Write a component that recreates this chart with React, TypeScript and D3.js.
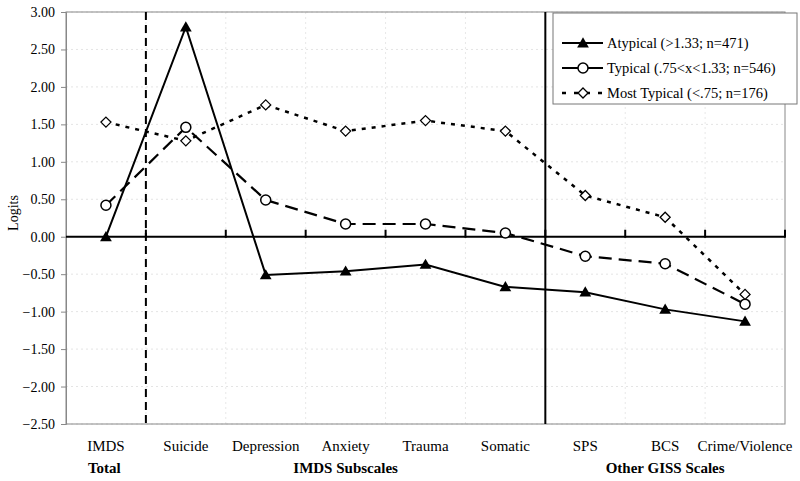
import React, { useEffect, useRef } from 'react';
import * as d3 from 'd3';

const categories = ['IMDS', 'Suicide', 'Depression', 'Anxiety', 'Trauma', 'Somatic', 'SPS', 'BCS', 'Crime/Violence'];
const atypical = [0.0, 2.8, -0.51, -0.46, -0.37, -0.67, -0.74, -0.97, -1.13];
const typical = [0.42, 1.46, 0.49, 0.17, 0.17, 0.05, -0.26, -0.36, -0.9];
const mostTypical = [1.53, 1.28, 1.76, 1.41, 1.55, 1.41, 0.55, 0.26, -0.77];
const yTicks = [3, 2.5, 2, 1.5, 1, 0.5, 0, -0.5, -1, -1.5, -2, -2.5];
const groupLabels = [
  { label: 'Total', from: 0, to: 0, align: 'start' },
  { label: 'IMDS Subscales', from: 1, to: 5, align: 'middle' },
  { label: 'Other GISS Scales', from: 6, to: 8, align: 'middle' },
];
const seriesNames = ['Atypical (>1.33; n=471)', 'Typical (.75<x<1.33; n=546)', 'Most Typical (<.75; n=176)'];

const W = 800;
const H = 481;
const margin = { top: 12, right: 15, bottom: 57, left: 66 };
const FONT = '"Liberation Serif", "Times New Roman", serif';

export default function App() {
  const ref = useRef<SVGSVGElement>(null);

  useEffect(() => {
    if (!ref.current) return;
    const svg = d3.select(ref.current);
    svg.selectAll('*').remove();

    const iw = W - margin.left - margin.right;
    const ih = H - margin.top - margin.bottom;
    const g = svg.append('g').attr('transform', `translate(${margin.left},${margin.top})`);

    const x = d3.scaleBand<string>().domain(categories).range([0, iw]);
    const y = d3.scaleLinear().domain([-2.5, 3]).range([ih, 0]);
    const cx = (i: number) => (x(categories[i]) as number) + x.bandwidth() / 2;

    // faint grid
    g.selectAll('.hgrid')
      .data(yTicks)
      .enter()
      .append('line')
      .attr('x1', 0)
      .attr('x2', iw)
      .attr('y1', d => y(d))
      .attr('y2', d => y(d))
      .attr('stroke', '#e4e4e4')
      .attr('stroke-dasharray', '2,3');
    g.selectAll('.vgrid')
      .data(categories.slice(1))
      .enter()
      .append('line')
      .attr('x1', d => x(d) as number)
      .attr('x2', d => x(d) as number)
      .attr('y1', 0)
      .attr('y2', ih)
      .attr('stroke', '#e8e8e8')
      .attr('stroke-dasharray', '2,3');

    // plot frame
    g.append('rect')
      .attr('width', iw)
      .attr('height', ih)
      .attr('fill', 'none')
      .attr('stroke', '#888');

    // y axis
    const yAxis = g.append('g').call(
      d3.axisLeft(y).tickValues(yTicks).tickSize(5).tickFormat(d3.format('.2f'))
    );
    yAxis.attr('font-size', null).attr('font-family', null);
    yAxis.select('.domain').attr('stroke', '#888');
    yAxis.selectAll('.tick line').attr('stroke', '#888');
    yAxis.selectAll('.tick text')
      .style('font-family', FONT)
      .style('font-size', '14px')
      .attr('fill', '#000')
      .attr('x', -11);

    // zero line with category ticks
    g.append('line')
      .attr('x1', 0)
      .attr('x2', iw)
      .attr('y1', y(0))
      .attr('y2', y(0))
      .attr('stroke', '#000')
      .attr('stroke-width', 2);
    g.selectAll('.xtick')
      .data(categories.slice(1).map(c => x(c) as number).concat([iw]))
      .enter()
      .append('line')
      .attr('x1', d => d)
      .attr('x2', d => d)
      .attr('y1', y(0) - 7)
      .attr('y2', y(0) + 1)
      .attr('stroke', '#000')
      .attr('stroke-width', 2);

    // separators
    g.append('line')
      .attr('x1', x('Suicide') as number)
      .attr('x2', x('Suicide') as number)
      .attr('y1', 0)
      .attr('y2', ih)
      .attr('stroke', '#000')
      .attr('stroke-width', 2)
      .attr('stroke-dasharray', '8,5');
    g.append('line')
      .attr('x1', x('SPS') as number)
      .attr('x2', x('SPS') as number)
      .attr('y1', 0)
      .attr('y2', ih)
      .attr('stroke', '#000')
      .attr('stroke-width', 2);

    // category labels
    g.selectAll('.cat')
      .data(categories)
      .enter()
      .append('text')
      .attr('x', (_, i) => cx(i))
      .attr('y', ih + 27)
      .attr('text-anchor', 'middle')
      .attr('font-family', FONT)
      .attr('font-size', 15)
      .text(d => d);

    groupLabels.forEach(gl => {
      const mid = gl.align === 'start' ? cx(gl.from) - 18 : (cx(gl.from) + cx(gl.to)) / 2;
      g.append('text')
        .attr('x', mid)
        .attr('y', ih + 49)
        .attr('text-anchor', gl.align)
        .attr('font-family', FONT)
        .attr('font-size', 15)
        .attr('font-weight', 'bold')
        .text(gl.label);
    });

    // y label
    svg.append('text')
      .attr('transform', `translate(18,213) rotate(-90)`)
      .attr('text-anchor', 'middle')
      .attr('font-family', FONT)
      .attr('font-size', 14)
      .text('Logits');

    const line = d3.line<number>().x((_, i) => cx(i)).y(d => y(d));
    const seriesData = [atypical, typical, mostTypical];
    const dashes = [null, '13,7', '4,6'];
    const widths = [2, 2.2, 2.5];

    seriesData.forEach((s, k) => {
      g.append('path')
        .datum(s)
        .attr('fill', 'none')
        .attr('stroke', '#000')
        .attr('stroke-width', widths[k])
        .attr('stroke-dasharray', dashes[k])
        .attr('d', line);
    });

    const drawMarker = (sel: d3.Selection<SVGGElement, unknown, null, undefined>, k: number, px: number, py: number) => {
      if (k === 0) {
        sel.append('path')
          .attr('d', d3.symbol().type(d3.symbolTriangle).size(60)())
          .attr('transform', `translate(${px},${py + 1})`)
          .attr('fill', '#000');
      } else if (k === 1) {
        sel.append('circle')
          .attr('cx', px)
          .attr('cy', py)
          .attr('r', 5)
          .attr('fill', '#fff')
          .attr('stroke', '#000')
          .attr('stroke-width', 1.5);
      } else {
        sel.append('path')
          .attr('d', 'M0,-5L5,0L0,5L-5,0Z')
          .attr('transform', `translate(${px},${py})`)
          .attr('fill', '#fff')
          .attr('stroke', '#000')
          .attr('stroke-width', 1.3);
      }
    };

    seriesData.forEach((s, k) => {
      const mg = g.append('g');
      s.forEach((v, i) => drawMarker(mg, k, cx(i), y(v)));
    });

    // legend
    const lg = svg.append('g').attr('transform', 'translate(553,13)');
    lg.append('rect')
      .attr('width', 244)
      .attr('height', 91)
      .attr('fill', '#fff')
      .attr('stroke', '#777');
    seriesNames.forEach((name, k) => {
      const ly = 30 + k * 25;
      lg.append('line')
        .attr('x1', 9)
        .attr('x2', 50)
        .attr('y1', ly)
        .attr('y2', ly)
        .attr('stroke', '#000')
        .attr('stroke-width', widths[k])
        .attr('stroke-dasharray', k === 2 ? '4,8' : null);
      drawMarker(lg as any, k, 30, ly);
      lg.append('text')
        .attr('x', 54)
        .attr('y', ly + 5)
        .attr('font-family', FONT)
        .attr('font-size', 14.5)
        .text(name);
    });
  }, []);

  return (
    <svg
      ref={ref}
      width={W}
      height={H}
      style={{ position: 'absolute', left: 0, top: 0, background: '#fff' }}
    />
  );
}
